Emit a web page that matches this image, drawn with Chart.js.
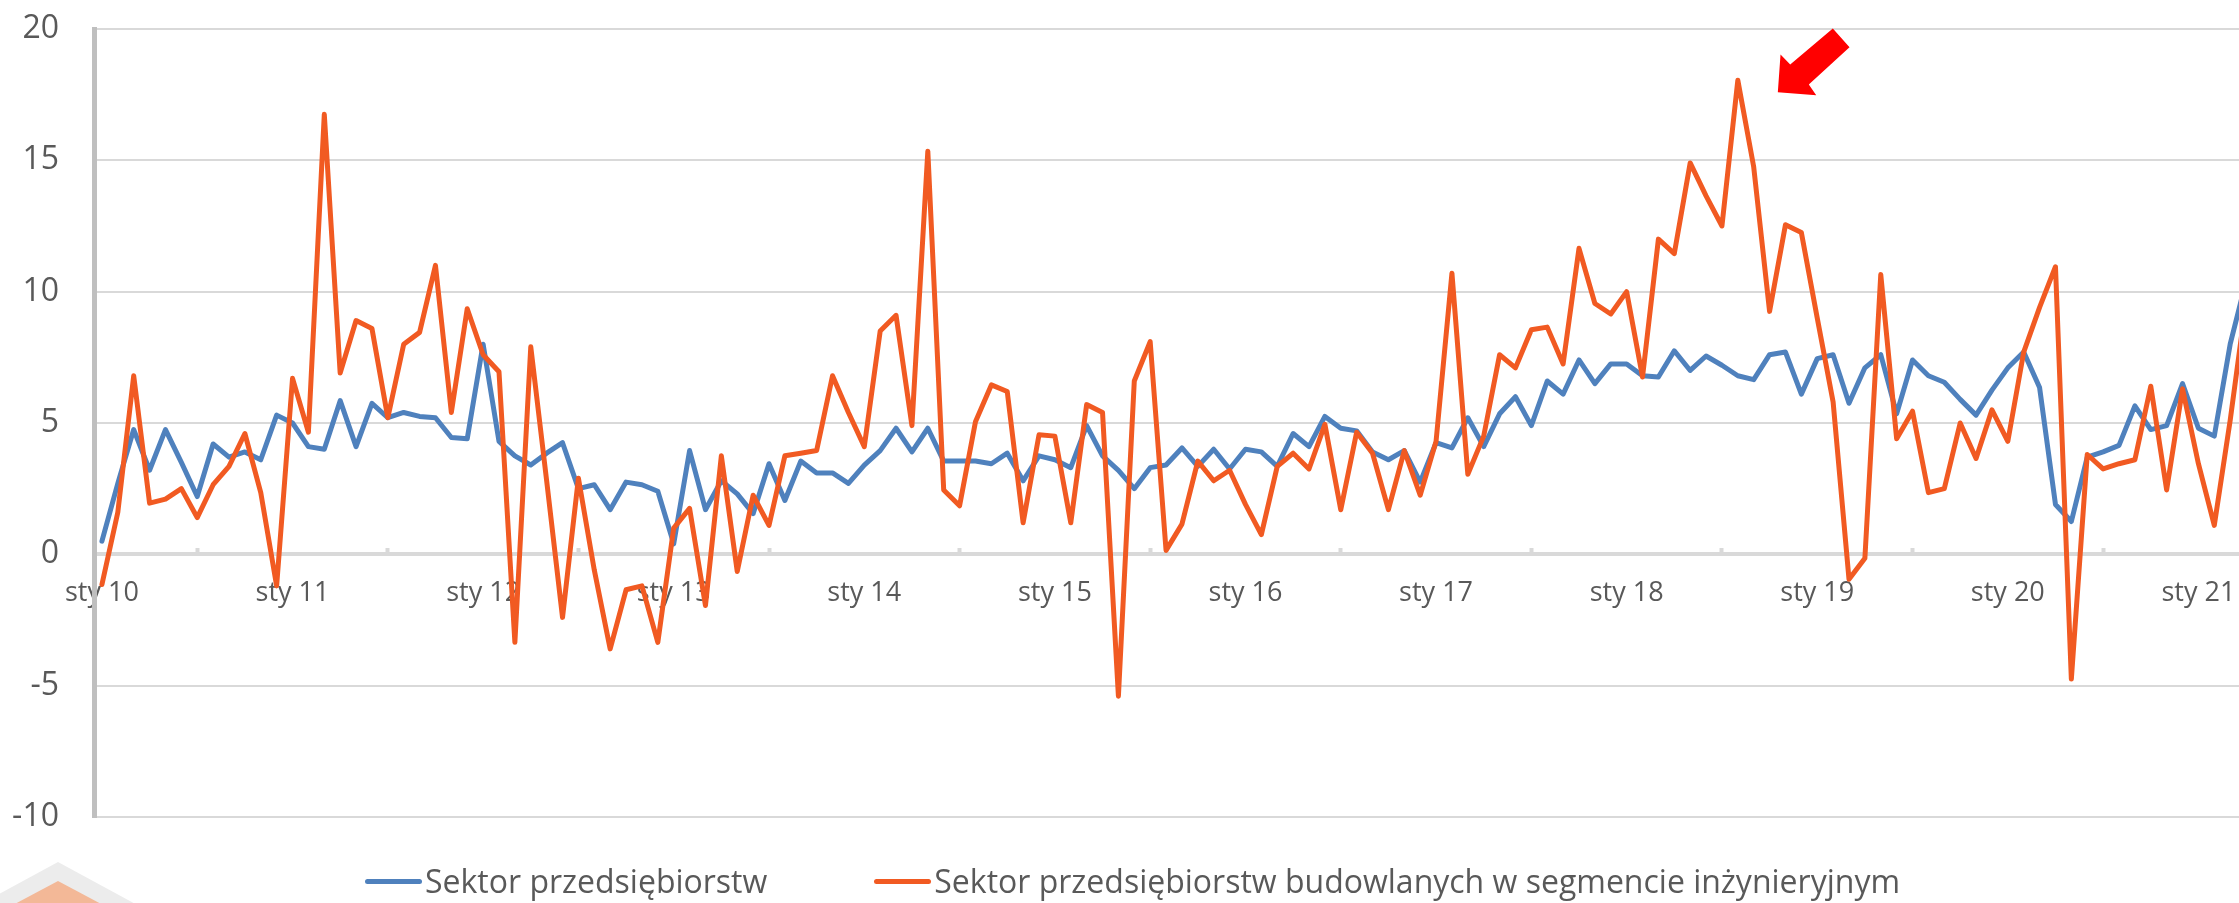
<!DOCTYPE html>
<html>
    <head>
        <title>Sektor przedsiębiorstw</title>
        <meta charset="UTF-8">
        <style>
          body { margin: 0; overflow: hidden; background: #fff; font-family: 'Open Sans', sans-serif; }
          #wrap { position: relative; width: 2239px; height: 903px; overflow: hidden; }
          #legend { position: absolute; left: 365px; top: 861px; display: flex; align-items: center; }
          .item { display: flex; align-items: center; margin-right: 107px; }
          .swatch { width: 57px; height: 5px; border-radius: 3px; margin-right: 3px; }
          .txt { font-size: 32px; line-height: 40px; color: #595959; white-space: nowrap; }
        </style>
    </head>
    <body>
        <div id="wrap">
          <canvas id="lineChart" width="2254" height="903"></canvas>
          <div id="legend"></div>
        </div>

        <script src="https://cdn.jsdelivr.net/npm/chart.js/dist/chart.umd.min.js"></script>

        <script>
          //****************************** data ******************************//
          const months = ['sty','lut','mar','kwi','maj','cze','lip','sie','wrz','paź','lis','gru'];
          const years = ['10','11','12','13','14','15','16','17','18','19','20','21'];

          // Sektor przedsiębiorstw (sty 10 - kwi 21)
          const sektor = [
            0.5, 2.7, 4.75, 3.2, 4.75, 3.5, 2.2, 4.2, 3.7, 3.9, 3.6, 5.3,
            5.0, 4.1, 4.0, 5.85, 4.1, 5.75, 5.2, 5.4, 5.25, 5.2, 4.45, 4.4,
            8.0, 4.3, 3.75, 3.4, 3.85, 4.25, 2.5, 2.65, 1.7, 2.75, 2.65, 2.4,
            0.4, 3.95, 1.7, 2.8, 2.3, 1.55, 3.45, 2.05, 3.55, 3.1, 3.1, 2.7,
            3.4, 3.95, 4.8, 3.9, 4.8, 3.55, 3.55, 3.55, 3.45, 3.85, 2.8, 3.75,
            3.6, 3.3, 4.9, 3.75, 3.2, 2.5, 3.3, 3.4, 4.05, 3.35, 4.0, 3.25,
            4.0, 3.9, 3.35, 4.6, 4.1, 5.25, 4.8, 4.7, 3.9, 3.6, 3.95, 2.75,
            4.25, 4.05, 5.2, 4.1, 5.35, 6.0, 4.9, 6.6, 6.1, 7.4, 6.5, 7.25,
            7.25, 6.8, 6.75, 7.75, 7.0, 7.55, 7.2, 6.8, 6.65, 7.6, 7.7, 6.1,
            7.45, 7.6, 5.75, 7.1, 7.6, 5.35, 7.4, 6.8, 6.55, 5.9, 5.3, 6.25,
            7.1, 7.7, 6.35, 1.9, 1.25, 3.7, 3.9, 4.15, 5.65, 4.75, 4.9, 6.5,
            4.8, 4.5, 8.0, 10.4
          ];

          // Sektor przedsiębiorstw budowlanych w segmencie inżynieryjnym
          const budowlane = [
            -1.15, 1.6, 6.8, 1.95, 2.1, 2.5, 1.4, 2.65, 3.35, 4.6, 2.35, -1.2,
            6.7, 4.65, 16.75, 6.9, 8.9, 8.6, 5.2, 8.0, 8.45, 11.0, 5.4, 9.35,
            7.6, 6.95, -3.35, 7.9, 2.8, -2.4, 2.9, -0.6, -3.6, -1.35, -1.2, -3.35,
            1.0, 1.75, -1.95, 3.75, -0.65, 2.25, 1.1, 3.75, 3.85, 3.95, 6.8, 5.4,
            4.1, 8.5, 9.1, 4.9, 15.35, 2.45, 1.85, 5.05, 6.45, 6.2, 1.2, 4.55,
            4.5, 1.2, 5.7, 5.4, -5.4, 6.6, 8.1, 0.15, 1.15, 3.55, 2.8, 3.2,
            1.9, 0.75, 3.35, 3.85, 3.25, 4.95, 1.7, 4.65, 3.85, 1.7, 3.95, 2.25,
            4.3, 10.7, 3.05, 4.5, 7.6, 7.1, 8.55, 8.65, 7.25, 11.65, 9.55, 9.15,
            10.0, 6.75, 12.0, 11.45, 14.9, 13.65, 12.5, 18.05, 14.75, 9.25, 12.55, 12.25,
            9.0, 5.8, -0.95, -0.15, 10.65, 4.4, 5.45, 2.35, 2.5, 5.0, 3.65, 5.5,
            4.3, 7.7, 9.4, 10.95, -4.75, 3.8, 3.25, 3.45, 3.6, 6.4, 2.45, 6.3,
            3.45, 1.1, 5.1, 9.6
          ];

          const seriesNames = ['Sektor przedsiębiorstw', 'Sektor przedsiębiorstw budowlanych w segmencie inżynieryjnym'];
          const seriesColors = ['#4f81bd', '#f15a22'];
          const yTicks = [-10, -5, 0, 5, 10, 15, 20];

          // month labels "sty 10", "lut 10", ...
          const labels = [];
          for (let y = 0; y < years.length; y++) {
            for (let m = 0; m < months.length; m++) {
              if (labels.length < sektor.length) labels.push(months[m] + ' ' + years[y]);
            }
          }

          //****************************** extras ******************************//
          // red arrow pointing at the peak of the construction series + faded logo corner
          const extras = {
            id: 'extras',
            beforeDraw(chart) {
              const ctx = chart.ctx;
              ctx.save();
              ctx.fillStyle = '#ececec';
              ctx.beginPath();
              ctx.moveTo(58, 862); ctx.lineTo(152, 913); ctx.lineTo(58, 964); ctx.lineTo(-36, 913);
              ctx.closePath(); ctx.fill();
              ctx.fillStyle = '#f3b897';
              ctx.beginPath();
              ctx.moveTo(58, 881); ctx.lineTo(120, 914); ctx.lineTo(58, 947); ctx.lineTo(-4, 914);
              ctx.closePath(); ctx.fill();
              ctx.restore();
            },
            afterDatasetsDraw(chart) {
              const ds = chart.data.datasets[1].data;
              let peak = 0;
              for (let i = 0; i < ds.length; i++) if (ds[i] > ds[peak]) peak = i;
              const px = chart.scales.x.getPixelForValue(peak);
              const py = chart.scales.y.getPixelForValue(ds[peak]);
              const tx = px + 40, ty = py + 12;
              const pts = [[0,0],[2.7,-37.7],[12.4,-27.7],[55,-63.7],[71.7,-45],[31,-7.7],[38.4,3]];
              const ctx = chart.ctx;
              ctx.save();
              ctx.fillStyle = '#ff0000';
              ctx.beginPath();
              pts.forEach((p, i) => i ? ctx.lineTo(tx + p[0], ty + p[1]) : ctx.moveTo(tx + p[0], ty + p[1]));
              ctx.closePath();
              ctx.fill();
              ctx.restore();
            }
          };

          //****************************** chart ******************************//
          Chart.defaults.font.family = "'Open Sans', sans-serif";
          Chart.defaults.color = '#595959';

          const CHART = document.getElementById('lineChart');
          const lineChart = new Chart(CHART, {
            type: 'line',
            data: {
              labels: labels,
              datasets: [
                {
                  label: seriesNames[0],
                  data: sektor,
                  borderColor: seriesColors[0],
                  backgroundColor: seriesColors[0],
                  borderWidth: 5,
                  order: 1
                },
                {
                  label: seriesNames[1],
                  data: budowlane,
                  borderColor: seriesColors[1],
                  backgroundColor: seriesColors[1],
                  borderWidth: 5,
                  order: 0
                }
              ]
            },
            options: {
              responsive: false,
              animation: false,
              layout: { padding: { top: 29, bottom: 86, left: 0, right: 0 } },
              elements: {
                point: { radius: 0 },
                line: { tension: 0, borderCapStyle: 'round', borderJoinStyle: 'round' }
              },
              plugins: {
                legend: { display: false },
                tooltip: { enabled: false }
              },
              scales: {
                x: {
                  type: 'category',
                  position: { y: 0 },
                  offset: true,
                  // no extra side padding for the month labels
                  afterFit: (scale) => { scale.paddingLeft = 0; scale.paddingRight = 0; },
                  grid: {
                    display: true,
                    offset: true,
                    drawOnChartArea: false,
                    drawTicks: true,
                    tickLength: -8,
                    tickWidth: 4,
                    tickColor: '#d9d9d9'
                  },
                  border: { display: true, color: '#d9d9d9', width: 4 },
                  ticks: {
                    autoSkip: false,
                    maxRotation: 0,
                    padding: 31,
                    font: { size: 27 },
                    color: '#595959',
                    callback: function(value, index) {
                      return index % 12 === 0 ? this.getLabelForValue(value) : null;
                    }
                  }
                },
                y: {
                  min: yTicks[0],
                  max: yTicks[yTicks.length - 1],
                  afterFit: (scale) => { scale.width = 94; },
                  // transparent tick marks keep the labels away from the axis
                  grid: { color: '#d9d9d9', lineWidth: 2, drawTicks: true, tickLength: 35, tickColor: 'rgba(0,0,0,0)' },
                  border: { display: true, color: '#bfbfbf', width: 5 },
                  ticks: {
                    stepSize: 5,
                    padding: 0,
                    font: { size: 32 },
                    color: '#595959'
                  }
                }
              }
            },
            plugins: [extras]
          });

          // html legend built from the datasets
          const legendBox = document.getElementById('legend');
          lineChart.data.datasets.forEach((ds) => {
            const item = document.createElement('div');
            item.className = 'item';
            const sw = document.createElement('span');
            sw.className = 'swatch';
            sw.style.background = ds.borderColor;
            const t = document.createElement('span');
            t.className = 'txt';
            t.textContent = ds.label;
            item.appendChild(sw);
            item.appendChild(t);
            legendBox.appendChild(item);
          });
        </script>
    </body>
</html>
